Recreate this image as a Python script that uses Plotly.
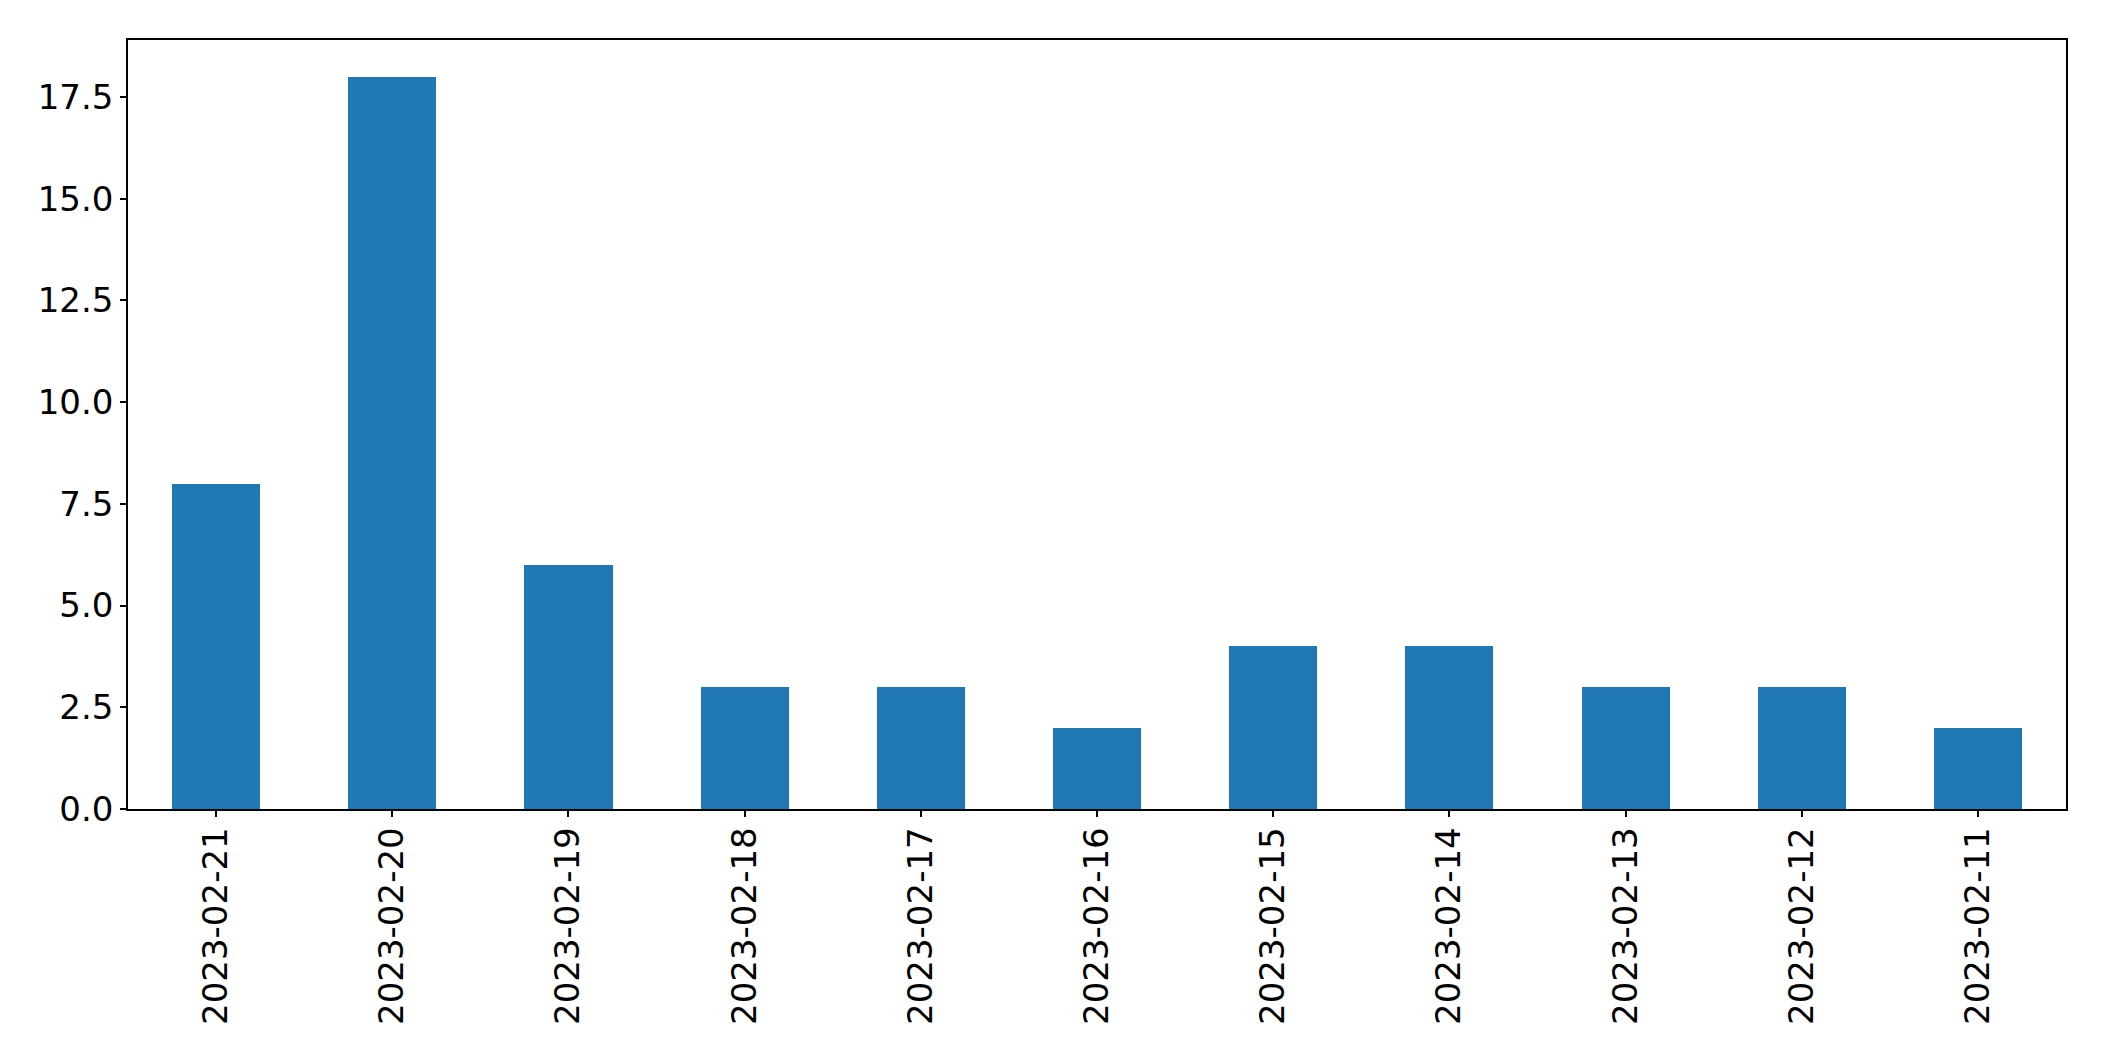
import plotly.graph_objects as go

dates = ["2023-02-21", "2023-02-20", "2023-02-19", "2023-02-18", "2023-02-17", "2023-02-16",
         "2023-02-15", "2023-02-14", "2023-02-13", "2023-02-12", "2023-02-11"]
counts = [8, 18, 6, 3, 3, 2, 4, 4, 3, 3, 2]
yticks = [0.0, 2.5, 5.0, 7.5, 10.0, 12.5, 15.0, 17.5]

fig = go.Figure(go.Bar(x=dates, y=counts, marker=dict(color="#1f77b4", line=dict(width=0)), width=0.5))

fig.update_layout(
    width=2104, height=1061,
    margin=dict(l=128, r=38, t=40, b=252),
    paper_bgcolor="white", plot_bgcolor="white",
    font=dict(family="DejaVu Sans", size=34, color="black"),
    showlegend=False,
    bargap=0,
)
fig.update_xaxes(
    type="category", range=[-0.5, 10.5], tickangle=-90,
    showline=True, mirror=True, linecolor="black", linewidth=1.5,
    ticks="outside", ticklen=6, tickwidth=1.5, tickcolor="black",
    showgrid=False, zeroline=False, ticklabelstandoff=-3,
)
fig.update_yaxes(
    range=[0, 18.9], tickvals=yticks, ticktext=[f"{v:.1f}" for v in yticks],
    showline=True, mirror=True, linecolor="black", linewidth=1.5,
    ticks="outside", ticklen=6, tickwidth=1.5, tickcolor="black",
    showgrid=False, zeroline=False,
)
fig.write_html("out.html")
